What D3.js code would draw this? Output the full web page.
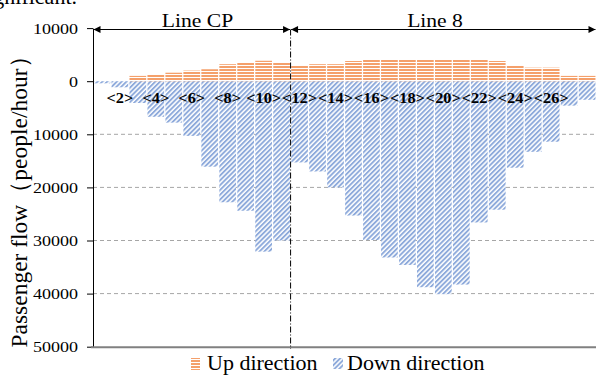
<!DOCTYPE html>
<html><head><meta charset="utf-8">
<script src="https://cdn.jsdelivr.net/npm/d3@7"></script>
<style>body{margin:0;background:#fff;} svg{display:block;}</style>
</head><body>
<script>
const stations = d3.range(1, 29);
const upFlow = [0, 0, 1000, 1350, 1600, 2000, 2250, 3200, 3500, 3850, 3550, 2900, 3200, 3200, 3800, 4100, 4100, 4100, 4100, 4100, 4100, 4100, 3800, 3050, 2550, 2550, 1000, 1000];
const downFlow = [400, 1150, 4100, 6700, 7800, 10300, 16100, 22800, 24400, 32100, 30000, 15300, 17000, 20000, 25300, 29900, 33200, 34600, 38800, 40100, 38300, 26600, 24200, 16300, 13300, 11400, 4600, 3500];
const yTicks = [10000, 0, -10000, -20000, -30000, -40000, -50000];
const yTickLabels = ["10000", "0", "10000", "20000", "30000", "40000", "50000"];
const labelStations = [2, 4, 6, 8, 10, 12, 14, 16, 18, 20, 22, 24, 26];
const lines = ["Line CP", "Line 8"];
const legendLabels = ["Up direction", "Down direction"];

const W = 596, H = 376;
const serif = "'Liberation Serif','Times New Roman',serif";
const svg = d3.select("body").append("svg").attr("width", W).attr("height", H)
  .style("font-family", serif);

const defs = svg.append("defs");
const pu = defs.append("pattern").attr("id", "upPat").attr("patternUnits", "userSpaceOnUse")
  .attr("width", 4).attr("height", 3);
pu.append("rect").attr("width", 4).attr("height", 3).attr("fill", "#fff");
pu.append("rect").attr("width", 4).attr("height", 2).attr("fill", "#F4A06B");
const pd = defs.append("pattern").attr("id", "downPat").attr("patternUnits", "userSpaceOnUse")
  .attr("width", 3.4).attr("height", 3.4).attr("patternTransform", "rotate(45)");
pd.append("rect").attr("width", 3.4).attr("height", 3.4).attr("fill", "#fff");
pd.append("rect").attr("width", 1.9).attr("height", 3.4).attr("fill", "#8EAADB");
defs.append("marker").attr("id", "arr").attr("viewBox", "0 0 10 10").attr("refX", 10).attr("refY", 5)
  .attr("markerWidth", 8).attr("markerHeight", 7).attr("markerUnits", "userSpaceOnUse")
  .attr("orient", "auto-start-reverse")
  .append("path").attr("d", "M0,0L10,5L0,10Z").attr("fill", "#000");

// top clipped text from document
svg.append("text").attr("x", 77).attr("y", 3.5).attr("text-anchor", "end")
  .attr("font-size", 22).text("significant.");

const x = d3.scaleBand().domain(stations).range([93, 596]).paddingInner(0.07).paddingOuter(0.03);
const y = d3.scaleLinear().domain([10000, -50000]).range([28.1, 346.7]);

// gridlines
svg.append("g").selectAll("line").data(yTicks.filter(v => v < 0 && v > -50000)).join("line")
  .attr("x1", 93).attr("x2", 596).attr("y1", d => y(d)).attr("y2", d => y(d))
  .attr("stroke", "#A6A6A6").attr("stroke-dasharray", "4,3").attr("stroke-width", 1);

// bars
svg.append("g").selectAll("rect").data(stations).join("rect")
  .attr("x", (s) => x(s)).attr("width", x.bandwidth())
  .attr("y", y(0)).attr("height", (s, i) => y(-downFlow[i]) - y(0))
  .attr("fill", "url(#downPat)");
svg.append("g").selectAll("rect").data(stations).join("rect")
  .attr("x", (s) => x(s)).attr("width", x.bandwidth())
  .attr("y", (s, i) => y(upFlow[i])).attr("height", (s, i) => y(0) - y(upFlow[i]))
  .attr("fill", "url(#upPat)");

// station labels
svg.append("g").selectAll("text").data(labelStations).join("text")
  .attr("transform", s => `translate(${x(s) + x.bandwidth() / 2},102.5) scale(1.17,1)`)
  .attr("text-anchor", "middle").attr("font-size", 14).attr("font-weight", "bold")
  .text(s => `<${s}>`);

// left axis
const ax = svg.append("g").attr("transform", "translate(93,0)")
  .call(d3.axisLeft(y).tickValues(yTicks).tickSize(6).tickSizeOuter(0)
    .tickFormat((d, i) => yTickLabels[i]));
ax.select(".domain").attr("stroke", "#000");
ax.selectAll(".tick line").attr("stroke", "#000");
ax.selectAll(".tick text").attr("x", -12.5).attr("dy", "0.34em")
  .attr("transform", "scale(1.2,1)").attr("font-size", 15).attr("font-family", serif).attr("fill", "#000");

// bottom axis line
svg.append("line").attr("x1", 91).attr("x2", 596).attr("y1", y(-50000) + 0.5).attr("y2", y(-50000) + 0.5)
  .attr("stroke", "#808080").attr("stroke-width", 2);

// divider
const xDiv = (x(11) + x.bandwidth() + x(12)) / 2;
svg.append("line").attr("x1", xDiv).attr("x2", xDiv).attr("y1", 29.5).attr("y2", 349)
  .attr("stroke", "#000").attr("stroke-width", 1).attr("stroke-dasharray", "6,2,1,2");

// line span arrows
const spans = [[93, xDiv], [xDiv, 596]];
const lineTextX = [197.5, 435];
spans.forEach((sp, i) => {
  svg.append("line").attr("x1", sp[0] + 0.5).attr("x2", sp[1] - 0.5).attr("y1", 29.5).attr("y2", 29.5)
    .attr("stroke", "#000").attr("stroke-width", 1)
    .attr("marker-start", "url(#arr)").attr("marker-end", "url(#arr)");
  svg.append("text").attr("transform", `translate(${lineTextX[i]},26.8) scale(1.2,1)`)
    .attr("text-anchor", "middle").attr("font-size", 18).text(lines[i]);
});

// y title
svg.append("text").attr("transform", "translate(27,196) rotate(-90)")
  .attr("text-anchor", "middle").attr("font-size", 23.5)
  .text("Passenger flow（people/hour）");

// legend
const lg = svg.append("g");
lg.append("rect").attr("x", 191).attr("y", 358).attr("width", 9).attr("height", 12).attr("fill", "url(#upPat)");
lg.append("text").attr("x", 207).attr("y", 370).attr("font-size", 22).text(legendLabels[0]);
lg.append("rect").attr("x", 333).attr("y", 358).attr("width", 10).attr("height", 11).attr("fill", "url(#downPat)");
lg.append("text").attr("x", 347).attr("y", 370).attr("font-size", 22).text(legendLabels[1]);
</script>
</body></html>
